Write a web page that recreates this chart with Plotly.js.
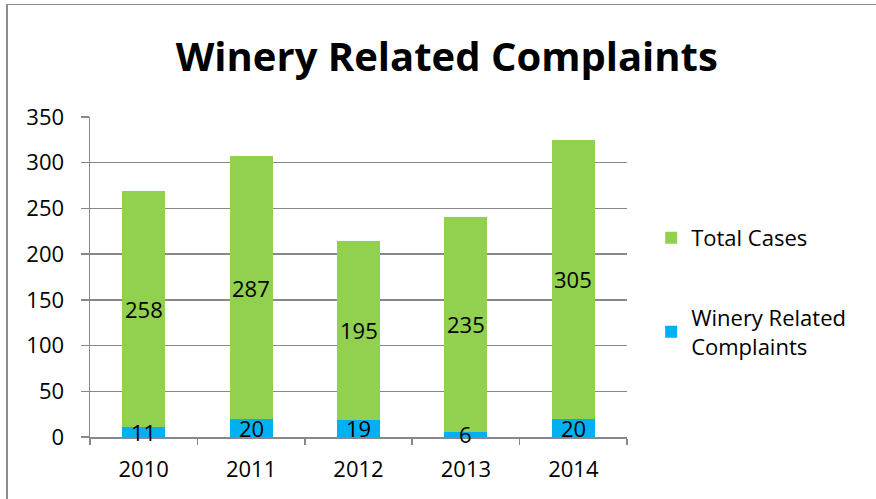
<!DOCTYPE html>
<html><head><meta charset="utf-8">
<script src="https://cdn.plot.ly/plotly-3.0.1.min.js"></script>
<style>
html,body{margin:0;padding:0;background:#fff;}
#chart{width:876px;height:499px;position:relative;}
#frame{position:absolute;left:6px;top:4px;width:900px;height:600px;border-left:2px solid #8c8c8c;border-top:1px solid #8c8c8c;pointer-events:none;}
</style></head>
<body>
<div id="chart"></div>
<div id="frame"></div>
<script>
const years = ['2010','2011','2012','2013','2014'];
const wineryComplaints = [11,20,19,6,20];
const totalCases = [258,287,195,235,305];
const yTicks = [0,50,100,150,200,250,300,350];

const font = '"Open Sans", sans-serif';
const traces = [
  {type:'bar', name:'Winery Related<br>Complaints', x:years, y:wineryComplaints,
   marker:{color:'#00B0F0'}, legendgroup:'b', legendrank:2, hoverinfo:'none'},
  {type:'bar', name:'Total Cases', x:years, y:totalCases,
   marker:{color:'#92D050'}, legendgroup:'a', legendrank:1, hoverinfo:'none'}
];
// data labels centred in each stacked segment (x = category index on the category axis)
const annotations = [];
years.forEach((yr, i) => {
  annotations.push({x:i, y:wineryComplaints[i]/2, xref:'x', yref:'y', text:String(wineryComplaints[i]),
    showarrow:false, xanchor:'center', yanchor:'middle', font:{size:22,family:font,color:'#000'}});
  annotations.push({x:i, y:wineryComplaints[i]+totalCases[i]/2, xref:'x', yref:'y', text:String(totalCases[i]),
    showarrow:false, xanchor:'center', yanchor:'middle', font:{size:22,family:font,color:'#000'}});
});
const layout = {
  width:876, height:499,
  margin:{l:90, r:249, t:117, b:62},
  barmode:'stack', bargap:0.6,
  paper_bgcolor:'#fff', plot_bgcolor:'#fff',
  font:{family:font, size:22, color:'#000'},
  title:{text:'<b>Winery Related Complaints</b>', font:{size:40,family:font,color:'#000'},
         x:0.51, xref:'container', xanchor:'center', y:1-57/499, yref:'container', yanchor:'middle'},
  xaxis:{type:'category', range:[-0.5,4.5], showline:true, linecolor:'#888', linewidth:1.5,
         ticks:'outside', tickson:'boundaries', ticklen:6, tickcolor:'#888', tickwidth:1.5,
         ticklabelstandoff:12, tickfont:{size:22,family:font}, showgrid:false},
  yaxis:{range:[0,350], tickvals:yTicks, ticktext:yTicks.map(String),
         showline:true, linecolor:'#888', linewidth:1.5,
         ticks:'outside', ticklen:8, tickcolor:'#888', tickwidth:1.5,
         ticklabelstandoff:12,
         showgrid:true, gridcolor:'#888', gridwidth:1.5, zeroline:false,
         tickfont:{size:22,family:font}},
  legend:{x:1.045, xanchor:'left', y:(437-217)/320, yanchor:'top', traceorder:'grouped',
          tracegroupgap:48, font:{size:22,family:font}, bgcolor:'rgba(0,0,0,0)'},
  annotations: annotations,
  showlegend:true
};
Plotly.newPlot('chart', traces, layout, {displayModeBar:false, staticPlot:true});
</script>
</body></html>
